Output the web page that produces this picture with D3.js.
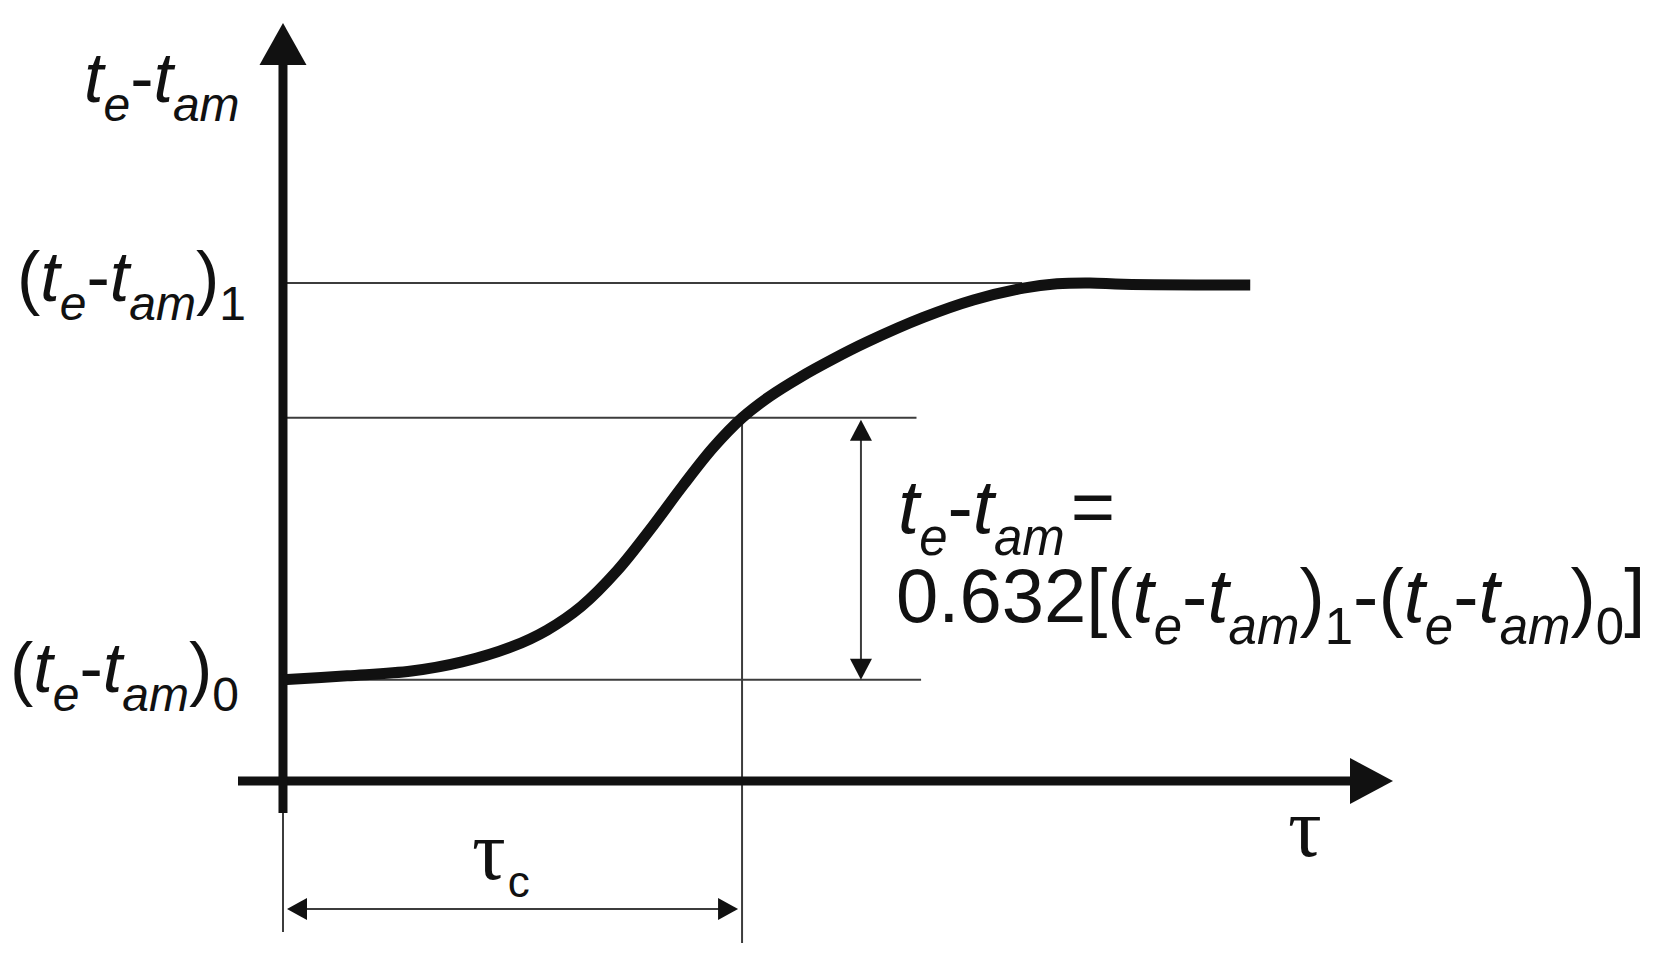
<!DOCTYPE html>
<html>
<head>
<meta charset="utf-8">
<script src="https://cdn.jsdelivr.net/npm/d3@7"></script>
<style>
  html, body { margin: 0; padding: 0; background: #fff; }
  svg { display: block; }
</style>
</head>
<body>
<svg id="chart" width="1667" height="963"></svg>
<script>
//
// Data
//

// time, in units of the time constant tau_c
var curveTau = [0, 0.14, 0.28, 0.39, 0.50, 0.575, 0.65, 0.728, 0.80, 0.871, 0.937, 1.0,
                1.06, 1.126, 1.198, 1.272, 1.395, 1.504, 1.613, 1.686, 1.758, 1.831, 2.107]
// temperature difference, 0 = (te-tam)0 and 1 = (te-tam)1
var curveVal = [0, 0.010, 0.022, 0.045, 0.084, 0.125, 0.185, 0.275, 0.379, 0.489, 0.585, 0.660,
                0.714, 0.762, 0.808, 0.851, 0.913, 0.957, 0.987, 0.998, 1.0, 0.997, 0.995]
// the two steady levels and the 63.2 % mark as drawn
var levelVals = [0, 1]
var levelSubs = ['0', '1']
var markVal = 0.66
var tauC = 1
// how far the guide lines run, in tau units
var levelEnds = [1.39, 1.61]
var markEnd = 1.38
var dimTau = 1.259
// axis extents
var tauDomain = [-0.098, 2.418]
var valDomain = [-0.255, 1.655]

//
// Setup
//

var svg = d3.select('#chart')
var x = d3.scaleLinear().domain(tauDomain).range([238, 1393])
var y = d3.scaleLinear().domain(valDomain).range([781, 23])

var ink = '#111'
var thin = '#3c3c3c'
var sans = '"Liberation Sans", Arial, sans-serif'
var serif = '"Liberation Serif", "Times New Roman", serif'

function line(x1, y1, x2, y2, color, w) {
  svg.append('line')
    .attr('x1', x1).attr('y1', y1).attr('x2', x2).attr('y2', y2)
    .attr('stroke', color).attr('stroke-width', w)
}

// filled triangle, tip at (tx, ty), pointing along (dx, dy)
function arrow(tx, ty, dx, dy, len, half) {
  var bx = tx - dx * len, by = ty - dy * len
  var pts = [[tx, ty], [bx - dy * half, by + dx * half], [bx + dy * half, by - dx * half]]
  svg.append('path').attr('d', 'M' + pts.join('L') + 'Z').attr('fill', ink)
}

// text with italic letters and dropped subscripts
function mathText(x0, y0, parts, opt) {
  var t = svg.append('text').attr('x', x0).attr('y', y0)
    .attr('font-family', sans).attr('font-size', opt.size).attr('fill', ink)
    .attr('text-anchor', opt.anchor || 'start')
  var shift = 0
  parts.forEach(function(p) {
    var target = p.sub ? opt.drop : 0
    t.append('tspan').attr('dy', target - shift).attr('dx', p.dx || 0)
      .attr('font-size', p.sub ? opt.sub : opt.size)
      .attr('font-style', p.it ? 'italic' : 'normal')
      .text(p.s)
    shift = target
  })
  return t
}

function diff() {
  return [{s: 't', it: true}, {s: 'e', it: true, sub: true}, {s: '-'},
          {s: 't', it: true}, {s: 'am', it: true, sub: true}]
}
function level(n) {
  return [{s: '('}].concat(diff(), [{s: ')'}, {s: n, sub: true}])
}

//
// Guide lines
//

levelVals.forEach(function(v, i) {
  line(x(0), y(v), x(levelEnds[i]), y(v), thin, 2)
})
line(x(0), y(markVal), x(markEnd), y(markVal), thin, 2)
line(x(tauC), y(markVal), x(tauC), y(valDomain[0]) + 162, thin, 2)
line(x(0), y(valDomain[0]) + 30, x(0), y(valDomain[0]) + 151, thin, 2)

// vertical dimension arrow
line(x(dimTau), y(markVal) + 10, x(dimTau), y(0) - 10, thin, 2)
arrow(x(dimTau), y(markVal) + 2, 0, -1, 21, 11)
arrow(x(dimTau), y(0), 0, 1, 21, 11)

// horizontal tau_c arrow
var dimY = y(valDomain[0]) + 128
line(x(0) + 10, dimY, x(tauC) - 10, dimY, thin, 2)
arrow(x(0) + 4, dimY, -1, 0, 20, 11)
arrow(x(tauC) - 4, dimY, 1, 0, 20, 11)

//
// Axes
//

line(x(tauDomain[0]), y(valDomain[0]), x(tauDomain[1]) - 30, y(valDomain[0]), ink, 9)
arrow(x(tauDomain[1]), y(valDomain[0]), 1, 0, 43, 23)
line(x(0), y(valDomain[0]) + 32, x(0), y(valDomain[1]) + 30, ink, 9)
arrow(x(0), y(valDomain[1]), 0, -1, 42, 23.5)

//
// Curve
//

var pts = curveTau.map(function(t, i) { return [t, curveVal[i]] })
svg.append('path')
  .datum(pts)
  .attr('d', d3.line().x(function(d) { return x(d[0]) }).y(function(d) { return y(d[1]) })
    .curve(d3.curveCatmullRom.alpha(0.5)))
  .attr('fill', 'none').attr('stroke', ink).attr('stroke-width', 11)

//
// Labels
//

var lab = {size: 70, sub: 48, drop: 19}
mathText(84, 102, diff(), lab)
mathText(17, y(levelVals[1]) + 18, level(levelSubs[1]), lab)
mathText(10, y(levelVals[0]) + 12, level(levelSubs[0]), lab)

var eq = {size: 76, sub: 51, drop: 22}
mathText(898, 533, diff().concat([{s: '=', dx: 6}]), eq)
mathText(896, 622, [{s: '0.632[('}].concat(diff(), [{s: ')'}, {s: '1', sub: true}, {s: '-('}],
  diff(), [{s: ')'}, {s: '0', sub: true}, {s: ']'}]), eq)

svg.append('text').attr('x', 1288).attr('y', 856)
  .attr('font-family', serif).attr('font-size', 84).attr('fill', ink).text('τ')
var tc = svg.append('text').attr('x', 472).attr('y', 879)
  .attr('font-family', serif).attr('font-size', 84).attr('fill', ink)
tc.append('tspan').text('τ')
tc.append('tspan').attr('dx', 2).attr('dy', 18).attr('font-family', sans).attr('font-size', 44).text('c')
</script>
</body>
</html>
